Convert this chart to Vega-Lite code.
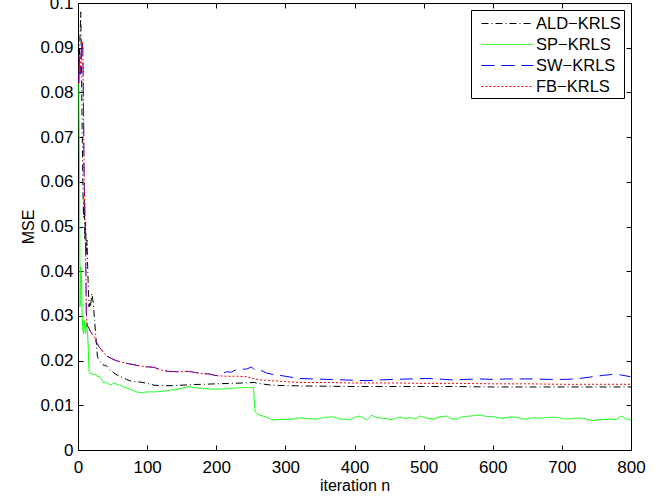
{
  "$schema": "https://vega.github.io/schema/vega-lite/v6.json",
  "width": 553,
  "height": 447,
  "autosize": {"type": "none"},
  "padding": {"left": 78, "top": 3, "right": 40, "bottom": 49},
  "background": "white",
  "config": {
    "view": {"stroke": "black", "strokeWidth": 1},
    "font": "Liberation Sans",
    "axis": {
      "grid": false,
      "domainColor": "black",
      "domainWidth": 1,
      "tickColor": "black",
      "tickWidth": 1,
      "tickSize": -5,
      "labelFont": "Liberation Sans",
      "labelFontSize": 17,
      "labelColor": "black",
      "titleFont": "Liberation Sans",
      "titleFontSize": 16,
      "titleFontWeight": "normal",
      "titleColor": "black"
    }
  },
  "data": {
    "values": [
      {"n":1,"s":"ALD−KRLS","v":0.082},{"n":2,"s":"ALD−KRLS","v":0.088},{"n":3,"s":"ALD−KRLS","v":0.093},{"n":4,"s":"ALD−KRLS","v":0.098},{"n":5,"s":"ALD−KRLS","v":0.086},{"n":6,"s":"ALD−KRLS","v":0.072},{"n":7,"s":"ALD−KRLS","v":0.060},{"n":8,"s":"ALD−KRLS","v":0.052},{"n":9,"s":"ALD−KRLS","v":0.056},{"n":10,"s":"ALD−KRLS","v":0.047},{"n":11,"s":"ALD−KRLS","v":0.051},{"n":12,"s":"ALD−KRLS","v":0.044},{"n":13,"s":"ALD−KRLS","v":0.047},{"n":14,"s":"ALD−KRLS","v":0.041},{"n":15,"s":"ALD−KRLS","v":0.036},{"n":16,"s":"ALD−KRLS","v":0.032},{"n":17,"s":"ALD−KRLS","v":0.033},{"n":18,"s":"ALD−KRLS","v":0.032},{"n":20,"s":"ALD−KRLS","v":0.035},{"n":22,"s":"ALD−KRLS","v":0.033},{"n":24,"s":"ALD−KRLS","v":0.029},{"n":26,"s":"ALD−KRLS","v":0.025},{"n":28,"s":"ALD−KRLS","v":0.021},{"n":30,"s":"ALD−KRLS","v":0.0202},{"n":32,"s":"ALD−KRLS","v":0.0198},{"n":34,"s":"ALD−KRLS","v":0.0195},{"n":36,"s":"ALD−KRLS","v":0.0192},{"n":38,"s":"ALD−KRLS","v":0.0188},{"n":40,"s":"ALD−KRLS","v":0.019},{"n":43,"s":"ALD−KRLS","v":0.0185},{"n":46,"s":"ALD−KRLS","v":0.018},{"n":50,"s":"ALD−KRLS","v":0.0175},{"n":55,"s":"ALD−KRLS","v":0.0169},{"n":60,"s":"ALD−KRLS","v":0.0165},{"n":65,"s":"ALD−KRLS","v":0.0162},{"n":70,"s":"ALD−KRLS","v":0.0158},{"n":75,"s":"ALD−KRLS","v":0.0155},{"n":80,"s":"ALD−KRLS","v":0.0153},{"n":90,"s":"ALD−KRLS","v":0.0152},{"n":100,"s":"ALD−KRLS","v":0.0149},{"n":110,"s":"ALD−KRLS","v":0.0145},{"n":120,"s":"ALD−KRLS","v":0.0144},{"n":140,"s":"ALD−KRLS","v":0.0144},{"n":160,"s":"ALD−KRLS","v":0.0146},{"n":180,"s":"ALD−KRLS","v":0.0147},{"n":200,"s":"ALD−KRLS","v":0.0148},{"n":220,"s":"ALD−KRLS","v":0.0149},{"n":240,"s":"ALD−KRLS","v":0.015},{"n":255,"s":"ALD−KRLS","v":0.0151},{"n":265,"s":"ALD−KRLS","v":0.0148},{"n":280,"s":"ALD−KRLS","v":0.0145},{"n":300,"s":"ALD−KRLS","v":0.0144},{"n":340,"s":"ALD−KRLS","v":0.0143},{"n":400,"s":"ALD−KRLS","v":0.0142},{"n":450,"s":"ALD−KRLS","v":0.0142},{"n":500,"s":"ALD−KRLS","v":0.0142},{"n":550,"s":"ALD−KRLS","v":0.0142},{"n":600,"s":"ALD−KRLS","v":0.0141},{"n":650,"s":"ALD−KRLS","v":0.0141},{"n":700,"s":"ALD−KRLS","v":0.0141},{"n":750,"s":"ALD−KRLS","v":0.0141},{"n":800,"s":"ALD−KRLS","v":0.0141},

      {"n":1,"s":"SP−KRLS","v":0.082},{"n":2,"s":"SP−KRLS","v":0.068},{"n":3,"s":"SP−KRLS","v":0.032},{"n":4,"s":"SP−KRLS","v":0.041},{"n":5,"s":"SP−KRLS","v":0.039},{"n":6,"s":"SP−KRLS","v":0.030},{"n":7,"s":"SP−KRLS","v":0.027},{"n":8,"s":"SP−KRLS","v":0.026},{"n":9,"s":"SP−KRLS","v":0.029},{"n":10,"s":"SP−KRLS","v":0.027},{"n":11,"s":"SP−KRLS","v":0.026},{"n":12,"s":"SP−KRLS","v":0.028},{"n":13,"s":"SP−KRLS","v":0.027},{"n":14,"s":"SP−KRLS","v":0.026},{"n":15,"s":"SP−KRLS","v":0.022},{"n":16,"s":"SP−KRLS","v":0.0175},{"n":18,"s":"SP−KRLS","v":0.017},{"n":20,"s":"SP−KRLS","v":0.0172},{"n":22,"s":"SP−KRLS","v":0.0168},{"n":25,"s":"SP−KRLS","v":0.017},{"n":28,"s":"SP−KRLS","v":0.0164},{"n":31,"s":"SP−KRLS","v":0.0165},{"n":34,"s":"SP−KRLS","v":0.0158},{"n":37,"s":"SP−KRLS","v":0.015},{"n":40,"s":"SP−KRLS","v":0.0152},{"n":44,"s":"SP−KRLS","v":0.0148},{"n":48,"s":"SP−KRLS","v":0.0146},{"n":52,"s":"SP−KRLS","v":0.015},{"n":56,"s":"SP−KRLS","v":0.0147},{"n":60,"s":"SP−KRLS","v":0.0145},{"n":65,"s":"SP−KRLS","v":0.0142},{"n":70,"s":"SP−KRLS","v":0.0139},{"n":75,"s":"SP−KRLS","v":0.0136},{"n":80,"s":"SP−KRLS","v":0.0133},{"n":85,"s":"SP−KRLS","v":0.013},{"n":90,"s":"SP−KRLS","v":0.0128},{"n":95,"s":"SP−KRLS","v":0.0129},{"n":100,"s":"SP−KRLS","v":0.013},{"n":110,"s":"SP−KRLS","v":0.013},{"n":120,"s":"SP−KRLS","v":0.0131},{"n":130,"s":"SP−KRLS","v":0.0133},{"n":140,"s":"SP−KRLS","v":0.0135},{"n":150,"s":"SP−KRLS","v":0.0138},{"n":160,"s":"SP−KRLS","v":0.0142},{"n":170,"s":"SP−KRLS","v":0.0139},{"n":185,"s":"SP−KRLS","v":0.0137},{"n":200,"s":"SP−KRLS","v":0.0136},{"n":215,"s":"SP−KRLS","v":0.0137},{"n":230,"s":"SP−KRLS","v":0.0139},{"n":245,"s":"SP−KRLS","v":0.014},{"n":254,"s":"SP−KRLS","v":0.0139},{"n":256,"s":"SP−KRLS","v":0.0086},{"n":260,"s":"SP−KRLS","v":0.008},{"n":265,"s":"SP−KRLS","v":0.0077},{"n":272,"s":"SP−KRLS","v":0.0074},{"n":282,"s":"SP−KRLS","v":0.0067},{"n":290,"s":"SP−KRLS","v":0.0068},{"n":300,"s":"SP−KRLS","v":0.0069},{"n":311,"s":"SP−KRLS","v":0.0069},{"n":321,"s":"SP−KRLS","v":0.0072},{"n":333,"s":"SP−KRLS","v":0.007},{"n":345,"s":"SP−KRLS","v":0.0069},{"n":357,"s":"SP−KRLS","v":0.0073},{"n":369,"s":"SP−KRLS","v":0.0074},{"n":381,"s":"SP−KRLS","v":0.0069},{"n":393,"s":"SP−KRLS","v":0.0068},{"n":400,"s":"SP−KRLS","v":0.0073},{"n":408,"s":"SP−KRLS","v":0.0076},{"n":418,"s":"SP−KRLS","v":0.0067},{"n":425,"s":"SP−KRLS","v":0.0078},{"n":433,"s":"SP−KRLS","v":0.0072},{"n":442,"s":"SP−KRLS","v":0.0071},{"n":454,"s":"SP−KRLS","v":0.0068},{"n":466,"s":"SP−KRLS","v":0.0074},{"n":474,"s":"SP−KRLS","v":0.007},{"n":481,"s":"SP−KRLS","v":0.0073},{"n":488,"s":"SP−KRLS","v":0.0069},{"n":495,"s":"SP−KRLS","v":0.0076},{"n":505,"s":"SP−KRLS","v":0.0071},{"n":514,"s":"SP−KRLS","v":0.0069},{"n":523,"s":"SP−KRLS","v":0.0074},{"n":533,"s":"SP−KRLS","v":0.0076},{"n":540,"s":"SP−KRLS","v":0.007},{"n":548,"s":"SP−KRLS","v":0.0069},{"n":555,"s":"SP−KRLS","v":0.0074},{"n":562,"s":"SP−KRLS","v":0.0075},{"n":572,"s":"SP−KRLS","v":0.0077},{"n":582,"s":"SP−KRLS","v":0.0078},{"n":591,"s":"SP−KRLS","v":0.0075},{"n":601,"s":"SP−KRLS","v":0.0075},{"n":608,"s":"SP−KRLS","v":0.0072},{"n":615,"s":"SP−KRLS","v":0.0071},{"n":625,"s":"SP−KRLS","v":0.0074},{"n":634,"s":"SP−KRLS","v":0.0073},{"n":642,"s":"SP−KRLS","v":0.007},{"n":649,"s":"SP−KRLS","v":0.0069},{"n":658,"s":"SP−KRLS","v":0.0072},{"n":668,"s":"SP−KRLS","v":0.0071},{"n":680,"s":"SP−KRLS","v":0.0073},{"n":692,"s":"SP−KRLS","v":0.0073},{"n":700,"s":"SP−KRLS","v":0.0071},{"n":707,"s":"SP−KRLS","v":0.0069},{"n":719,"s":"SP−KRLS","v":0.0071},{"n":731,"s":"SP−KRLS","v":0.0071},{"n":738,"s":"SP−KRLS","v":0.0068},{"n":745,"s":"SP−KRLS","v":0.0066},{"n":755,"s":"SP−KRLS","v":0.0068},{"n":769,"s":"SP−KRLS","v":0.0069},{"n":778,"s":"SP−KRLS","v":0.0068},{"n":786,"s":"SP−KRLS","v":0.0076},{"n":792,"s":"SP−KRLS","v":0.007},{"n":798,"s":"SP−KRLS","v":0.0067},{"n":800,"s":"SP−KRLS","v":0.0068},

      {"n":1,"s":"SW−KRLS","v":0.082},{"n":2,"s":"SW−KRLS","v":0.088},{"n":3,"s":"SW−KRLS","v":0.084},{"n":4,"s":"SW−KRLS","v":0.087},{"n":5,"s":"SW−KRLS","v":0.09},{"n":6,"s":"SW−KRLS","v":0.0915},{"n":7,"s":"SW−KRLS","v":0.089},{"n":8,"s":"SW−KRLS","v":0.076},{"n":9,"s":"SW−KRLS","v":0.06},{"n":10,"s":"SW−KRLS","v":0.053},{"n":11,"s":"SW−KRLS","v":0.045},{"n":12,"s":"SW−KRLS","v":0.031},{"n":13,"s":"SW−KRLS","v":0.028},{"n":15,"s":"SW−KRLS","v":0.0275},{"n":18,"s":"SW−KRLS","v":0.0265},{"n":21,"s":"SW−KRLS","v":0.0258},{"n":24,"s":"SW−KRLS","v":0.0252},{"n":27,"s":"SW−KRLS","v":0.024},{"n":30,"s":"SW−KRLS","v":0.0232},{"n":34,"s":"SW−KRLS","v":0.0224},{"n":38,"s":"SW−KRLS","v":0.0216},{"n":42,"s":"SW−KRLS","v":0.021},{"n":48,"s":"SW−KRLS","v":0.0205},{"n":55,"s":"SW−KRLS","v":0.02},{"n":62,"s":"SW−KRLS","v":0.0197},{"n":70,"s":"SW−KRLS","v":0.0194},{"n":80,"s":"SW−KRLS","v":0.0191},{"n":90,"s":"SW−KRLS","v":0.0188},{"n":100,"s":"SW−KRLS","v":0.0186},{"n":110,"s":"SW−KRLS","v":0.0185},{"n":120,"s":"SW−KRLS","v":0.0179},{"n":130,"s":"SW−KRLS","v":0.0176},{"n":145,"s":"SW−KRLS","v":0.0175},{"n":160,"s":"SW−KRLS","v":0.0176},{"n":170,"s":"SW−KRLS","v":0.0173},{"n":180,"s":"SW−KRLS","v":0.0171},{"n":190,"s":"SW−KRLS","v":0.017},{"n":198,"s":"SW−KRLS","v":0.0167},{"n":203,"s":"SW−KRLS","v":0.0166},{"n":208,"s":"SW−KRLS","v":0.017},{"n":215,"s":"SW−KRLS","v":0.0175},{"n":222,"s":"SW−KRLS","v":0.0174},{"n":229,"s":"SW−KRLS","v":0.018},{"n":237,"s":"SW−KRLS","v":0.0181},{"n":244,"s":"SW−KRLS","v":0.0181},{"n":251,"s":"SW−KRLS","v":0.0186},{"n":256,"s":"SW−KRLS","v":0.0178},{"n":263,"s":"SW−KRLS","v":0.0178},{"n":268,"s":"SW−KRLS","v":0.0176},{"n":273,"s":"SW−KRLS","v":0.0172},{"n":282,"s":"SW−KRLS","v":0.0169},{"n":292,"s":"SW−KRLS","v":0.0167},{"n":304,"s":"SW−KRLS","v":0.0164},{"n":320,"s":"SW−KRLS","v":0.016},{"n":340,"s":"SW−KRLS","v":0.0159},{"n":360,"s":"SW−KRLS","v":0.0158},{"n":380,"s":"SW−KRLS","v":0.0157},{"n":400,"s":"SW−KRLS","v":0.0156},{"n":418,"s":"SW−KRLS","v":0.0155},{"n":440,"s":"SW−KRLS","v":0.0157},{"n":460,"s":"SW−KRLS","v":0.0158},{"n":480,"s":"SW−KRLS","v":0.0159},{"n":504,"s":"SW−KRLS","v":0.016},{"n":520,"s":"SW−KRLS","v":0.0159},{"n":540,"s":"SW−KRLS","v":0.0157},{"n":562,"s":"SW−KRLS","v":0.0158},{"n":580,"s":"SW−KRLS","v":0.0159},{"n":600,"s":"SW−KRLS","v":0.0158},{"n":620,"s":"SW−KRLS","v":0.0159},{"n":640,"s":"SW−KRLS","v":0.0159},{"n":659,"s":"SW−KRLS","v":0.0159},{"n":680,"s":"SW−KRLS","v":0.0158},{"n":707,"s":"SW−KRLS","v":0.0158},{"n":725,"s":"SW−KRLS","v":0.016},{"n":745,"s":"SW−KRLS","v":0.0164},{"n":760,"s":"SW−KRLS","v":0.0167},{"n":772,"s":"SW−KRLS","v":0.0169},{"n":785,"s":"SW−KRLS","v":0.0168},{"n":799,"s":"SW−KRLS","v":0.0164},

      {"n":1,"s":"FB−KRLS","v":0.082},{"n":2,"s":"FB−KRLS","v":0.088},{"n":3,"s":"FB−KRLS","v":0.084},{"n":4,"s":"FB−KRLS","v":0.087},{"n":5,"s":"FB−KRLS","v":0.09},{"n":6,"s":"FB−KRLS","v":0.0915},{"n":7,"s":"FB−KRLS","v":0.089},{"n":8,"s":"FB−KRLS","v":0.076},{"n":9,"s":"FB−KRLS","v":0.06},{"n":10,"s":"FB−KRLS","v":0.053},{"n":11,"s":"FB−KRLS","v":0.045},{"n":12,"s":"FB−KRLS","v":0.031},{"n":13,"s":"FB−KRLS","v":0.028},{"n":15,"s":"FB−KRLS","v":0.0275},{"n":18,"s":"FB−KRLS","v":0.0265},{"n":21,"s":"FB−KRLS","v":0.0258},{"n":24,"s":"FB−KRLS","v":0.0252},{"n":27,"s":"FB−KRLS","v":0.024},{"n":30,"s":"FB−KRLS","v":0.0232},{"n":34,"s":"FB−KRLS","v":0.0224},{"n":38,"s":"FB−KRLS","v":0.0216},{"n":42,"s":"FB−KRLS","v":0.021},{"n":48,"s":"FB−KRLS","v":0.0205},{"n":55,"s":"FB−KRLS","v":0.02},{"n":62,"s":"FB−KRLS","v":0.0197},{"n":70,"s":"FB−KRLS","v":0.0194},{"n":80,"s":"FB−KRLS","v":0.0191},{"n":90,"s":"FB−KRLS","v":0.0188},{"n":100,"s":"FB−KRLS","v":0.0186},{"n":110,"s":"FB−KRLS","v":0.0185},{"n":120,"s":"FB−KRLS","v":0.0179},{"n":130,"s":"FB−KRLS","v":0.0176},{"n":145,"s":"FB−KRLS","v":0.0175},{"n":160,"s":"FB−KRLS","v":0.0176},{"n":170,"s":"FB−KRLS","v":0.0173},{"n":180,"s":"FB−KRLS","v":0.0171},{"n":190,"s":"FB−KRLS","v":0.017},{"n":198,"s":"FB−KRLS","v":0.0167},{"n":203,"s":"FB−KRLS","v":0.0166},{"n":215,"s":"FB−KRLS","v":0.0165},{"n":230,"s":"FB−KRLS","v":0.0165},{"n":244,"s":"FB−KRLS","v":0.0164},{"n":250,"s":"FB−KRLS","v":0.0161},{"n":263,"s":"FB−KRLS","v":0.0157},{"n":282,"s":"FB−KRLS","v":0.0155},{"n":300,"s":"FB−KRLS","v":0.0153},{"n":320,"s":"FB−KRLS","v":0.0151},{"n":360,"s":"FB−KRLS","v":0.0151},{"n":400,"s":"FB−KRLS","v":0.015},{"n":450,"s":"FB−KRLS","v":0.015},{"n":500,"s":"FB−KRLS","v":0.0149},{"n":550,"s":"FB−KRLS","v":0.0149},{"n":600,"s":"FB−KRLS","v":0.0148},{"n":650,"s":"FB−KRLS","v":0.0148},{"n":700,"s":"FB−KRLS","v":0.0147},{"n":750,"s":"FB−KRLS","v":0.0147},{"n":800,"s":"FB−KRLS","v":0.0147}
    ]
  },
  "layer": [
    {
      "mark": {"type": "line", "strokeWidth": 1, "clip": true},
      "encoding": {
        "x": {
          "field": "n", "type": "quantitative",
          "scale": {"domain": [0, 800], "nice": false, "zero": false},
          "axis": {"values": [0,100,200,300,400,500,600,700,800], "title": "iteration n", "labelPadding": 14, "titlePadding": 2, "labelFlush": false}
        },
        "y": {
          "field": "v", "type": "quantitative",
          "scale": {"domain": [0, 0.1], "nice": false},
          "axis": {"values": [0,0.01,0.02,0.03,0.04,0.05,0.06,0.07,0.08,0.09,0.1], "format": "~g", "title": "MSE", "labelPadding": 10, "titlePadding": 3, "labelFlush": false}
        },
        "color": {
          "field": "s", "type": "nominal",
          "scale": {"domain": ["ALD−KRLS","SP−KRLS","SW−KRLS","FB−KRLS"], "range": ["#000000","#00ff00","#0000ff","#ff0000"]},
          "legend": {
            "orient": "top-right", "offset": 7, "title": null,
            "strokeColor": "black", "fillColor": "white", "padding": 3,
            "symbolType": "M-2.6,0H2.6", "symbolSize": 400, "symbolStrokeWidth": 1, "symbolOffset": 23,
            "labelFontSize": 16.5, "labelFont": "Liberation Sans", "labelColor": "black",
            "labelOffset": 18, "rowPadding": 2,
            "encode": {"symbols": {"update": {"stroke": {"scale": "color", "field": "value"}, "strokeDash": {"scale": "strokeDash", "field": "value"}}}}
          }
        },
        "strokeDash": {
          "field": "s", "type": "nominal",
          "scale": {"domain": ["ALD−KRLS","SP−KRLS","SW−KRLS","FB−KRLS"], "range": [[7,3,1,3],[1,0],[13,7],[2,2]]}
        }
      }
    },
    {
      "mark": {"type": "line", "opacity": 0},
      "encoding": {
        "x": {"field": "n", "type": "quantitative", "axis": {"orient": "top", "labels": false, "title": null, "domain": false, "values": [0,100,200,300,400,500,600,700,800]}},
        "y": {"field": "v", "type": "quantitative", "axis": {"orient": "right", "labels": false, "title": null, "domain": false, "values": [0,0.01,0.02,0.03,0.04,0.05,0.06,0.07,0.08,0.09,0.1]}},
        "detail": {"field": "s", "type": "nominal"}
      }
    }
  ],
  "resolve": {"axis": {"x": "independent", "y": "independent"}}
}
